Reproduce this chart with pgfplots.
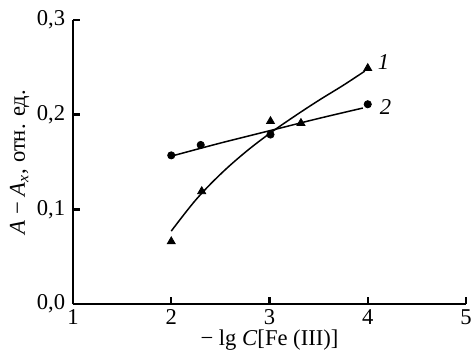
\documentclass[border=0pt]{standalone}
\usepackage{pgfplots}
\pgfplotsset{compat=1.18}
\usepackage{fontspec}
\setmainfont{Liberation Serif}
\begin{document}
\fontsize{11.3}{13}\selectfont
\begin{tikzpicture}
\begin{axis}[
  name=ax,
  scale only axis,
  width=196.5pt, height=142pt,
  xmin=1, xmax=5, ymin=0, ymax=0.3,
  axis x line*=bottom, axis y line*=left,
  axis line style={line width=1.1pt},
  xtick={1,2,3,4,5},
  ytick={0,0.1,0.2,0.3},
  xtick pos=bottom, ytick pos=left,
  tick align=inside,
  major tick length=3.5pt,
  every tick/.style={line width=1.2pt, black},
  /pgf/number format/assume math mode=true,
  yticklabel style={/pgf/number format/.cd, fixed, fixed zerofill, precision=1, use comma},
  ticklabel style={font=\fontsize{11.3}{13}\selectfont},
  xticklabel style={yshift=1pt},
  xlabel={− lg \textit{C}[Fe (III)]},
  ylabel={\textit{A} − \textit{A}\textsubscript{\textit{x}}, отн. ед.},
  xlabel style={font=\fontsize{11.3}{13}\selectfont, yshift=5.5pt},
  ylabel style={font=\fontsize{11.3}{13}\selectfont, yshift=-4pt},
  clip=false,
]
% fitted curve 1
\addplot[black, line width=0.75pt, smooth, tension=0.6] coordinates {
 (2.0,0.077) (2.25,0.110) (2.5,0.137) (2.75,0.160) (3.0,0.180) (3.25,0.198) (3.5,0.215) (3.75,0.231) (3.97,0.246)};
% line 2
\addplot[black, line width=0.75pt, smooth] coordinates {
 (2.03,0.157) (2.5,0.170) (3.0,0.183) (3.5,0.196) (3.95,0.207)};
% data 1
\addplot[only marks, mark=triangle*, mark size=2.3pt, black] coordinates {
 (2.0,0.066) (2.31,0.119) (3.01,0.193) (3.32,0.191) (4.0,0.249)};
% data 2
\addplot[only marks, mark=*, mark size=1.8pt, black] coordinates {
 (2.0,0.157) (2.30,0.168) (3.01,0.179) (4.0,0.211)};
\node[anchor=center] at (axis cs:4.16,0.2555) {\textit{1}};
\node[anchor=center] at (axis cs:4.18,0.208) {\textit{2}};
\end{axis}
\pgfresetboundingbox
\path (ax.south west) ++(-36.5pt,-24.5pt) coordinate (bl);
\path (ax.north east) ++(3pt,10pt) coordinate (tr);
\useasboundingbox (bl) rectangle (tr);
\end{tikzpicture}
\end{document}
